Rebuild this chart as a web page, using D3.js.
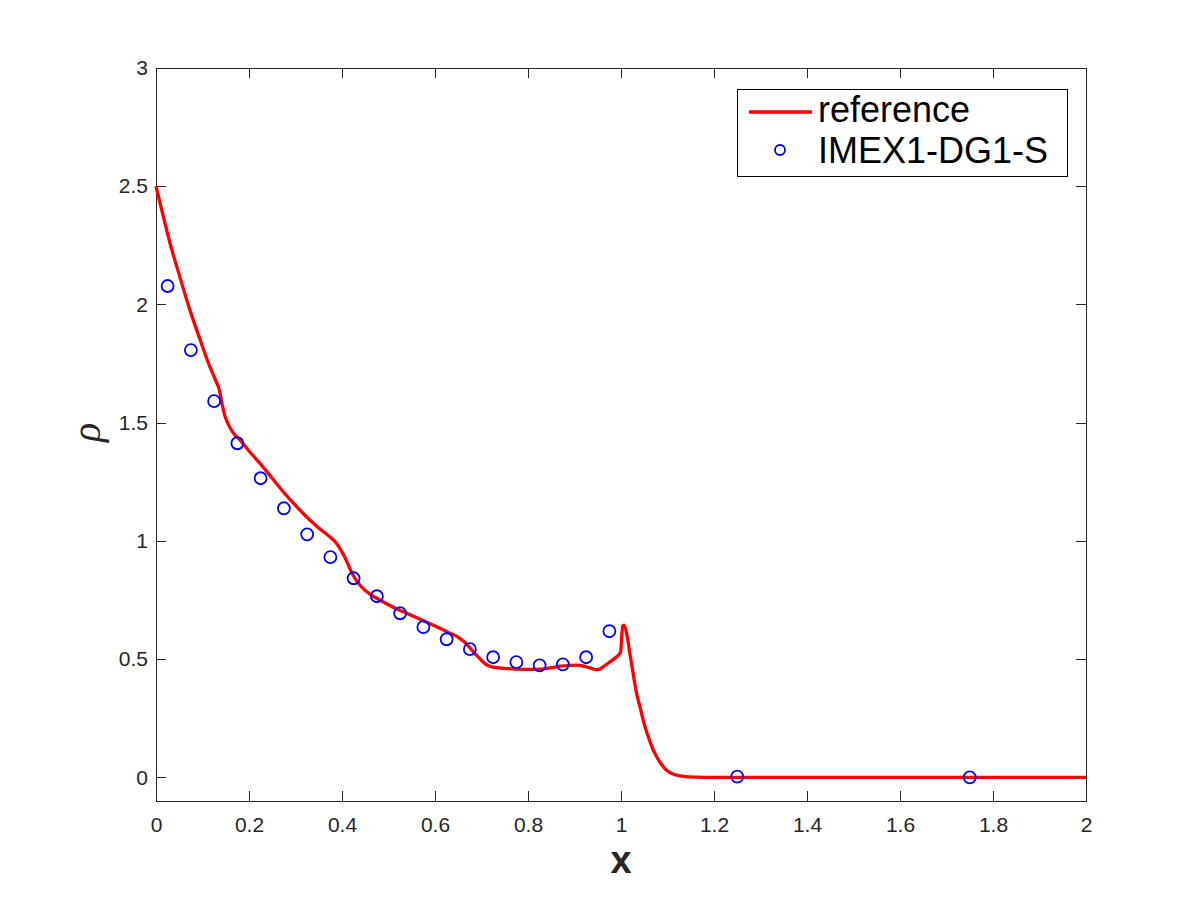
<!DOCTYPE html>
<html>
<head>
<meta charset="utf-8">
<script src="https://cdn.jsdelivr.net/npm/d3@7/dist/d3.min.js"></script>
<style>
  body { margin: 0; background: #fff; }
  svg { display: block; }
  .tick text { font-family: "Liberation Sans", Arial, Helvetica, sans-serif; fill: #262626; }
</style>
</head>
<body>
<svg id="chart" width="1200" height="900"></svg>
<script>
// reference solution (red line)
var refX = [0, 0.015, 0.030, 0.05, 0.073, 0.095, 0.116, 0.128, 0.136, 0.142, 0.148, 0.155, 0.165, 0.181,
    0.20, 0.224, 0.25, 0.274, 0.30, 0.324, 0.35, 0.374, 0.388, 0.398, 0.405, 0.412, 0.420, 0.430, 0.442,
    0.46, 0.482, 0.505, 0.532, 0.555, 0.575, 0.60, 0.632, 0.650, 0.665, 0.675, 0.685, 0.695, 0.705, 0.715,
    0.725, 0.75, 0.776, 0.80, 0.826, 0.85, 0.869, 0.89, 0.905, 0.92, 0.933, 0.945, 0.953, 0.962, 0.975,
    0.988, 0.999, 1.0036, 1.0065, 1.012, 1.019, 1.026, 1.033, 1.041, 1.050, 1.059, 1.068, 1.077, 1.088,
    1.098, 1.115, 1.134, 1.16, 1.2, 1.5, 2.0];
var refRho = [2.50, 2.378, 2.26, 2.125, 1.976, 1.85, 1.736, 1.68, 1.64, 1.58, 1.53, 1.495, 1.46, 1.426,
    1.38, 1.327, 1.265, 1.207, 1.15, 1.101, 1.055, 1.017, 0.99, 0.96, 0.935, 0.905, 0.87, 0.835, 0.805,
    0.775, 0.749, 0.725, 0.700, 0.680, 0.662, 0.640, 0.610, 0.592, 0.57, 0.548, 0.525, 0.505, 0.485, 0.472,
    0.466, 0.461, 0.458, 0.457, 0.458, 0.464, 0.470, 0.474, 0.475, 0.470, 0.463, 0.456, 0.457, 0.468, 0.487,
    0.506, 0.529, 0.640, 0.644, 0.61, 0.525, 0.44, 0.36, 0.297, 0.225, 0.170, 0.122, 0.086, 0.052,
    0.030, 0.012, 0.004, 0.001, 0, 0, 0];

// IMEX1-DG1-S cell values (blue circles)
var dgX = [0.025, 0.075, 0.125, 0.175, 0.225, 0.275, 0.325, 0.375, 0.425, 0.475, 0.525, 0.575,
    0.625, 0.675, 0.725, 0.775, 0.825, 0.875, 0.925, 0.975, 1.25, 1.75];
var dgRho = [2.078, 1.807, 1.591, 1.413, 1.265, 1.138, 1.028, 0.931, 0.842, 0.766, 0.694, 0.635,
    0.584, 0.542, 0.508, 0.487, 0.474, 0.478, 0.508, 0.618, 0.003, 0.0];

var xTicks = [0, 0.2, 0.4, 0.6, 0.8, 1, 1.2, 1.4, 1.6, 1.8, 2];
var xTickLabels = ["0", "0.2", "0.4", "0.6", "0.8", "1", "1.2", "1.4", "1.6", "1.8", "2"];
var yTicks = [0, 0.5, 1, 1.5, 2, 2.5, 3];
var yTickLabels = ["0", "0.5", "1", "1.5", "2", "2.5", "3"];

var seriesNames = ["reference", "IMEX1-DG1-S"];

var axisColor = "#262626";
var plotLeft = 156, plotRight = 1086, plotTop = 68, plotBottom = 801;

var svg = d3.select("#chart");

var x = d3.scaleLinear().domain([0, 2]).range([plotLeft, plotRight]);
var y = d3.scaleLinear().domain([-0.1, 3]).range([plotBottom, plotTop]);

// axes, ticks pointing inward on all four sides
var gx = svg.append("g").attr("transform", "translate(0," + plotBottom + ")")
    .call(d3.axisBottom(x).tickValues(xTicks).tickSizeInner(-10).tickSizeOuter(0).tickPadding(16)
        .tickFormat(function (d, i) { return xTickLabels[i]; }));
var gy = svg.append("g").attr("transform", "translate(" + plotLeft + ",0)")
    .call(d3.axisLeft(y).tickValues(yTicks).tickSizeInner(-10).tickSizeOuter(0).tickPadding(8)
        .tickFormat(function (d, i) { return yTickLabels[i]; }));
var gt = svg.append("g").attr("transform", "translate(0," + plotTop + ")")
    .call(d3.axisTop(x).tickValues(xTicks).tickSizeInner(-10).tickSizeOuter(0).tickFormat(""));
var gr = svg.append("g").attr("transform", "translate(" + plotRight + ",0)")
    .call(d3.axisRight(y).tickValues(yTicks).tickSizeInner(-10).tickSizeOuter(0).tickFormat(""));

[gx, gy, gt, gr].forEach(function (g) {
    g.selectAll("path, line").attr("stroke", axisColor).attr("stroke-width", 1).attr("shape-rendering", "crispEdges");
    g.selectAll("text").attr("font-size", 21);
});

// axis labels
svg.append("text")
    .attr("x", x(1))
    .attr("y", 873)
    .attr("text-anchor", "middle")
    .attr("font-family", "'Liberation Sans', Arial, Helvetica, sans-serif")
    .attr("font-weight", "bold")
    .attr("font-size", 38)
    .attr("fill", axisColor)
    .text("x");

svg.append("text")
    .attr("transform", "translate(100," + ((plotTop + plotBottom) / 2 - 2) + ") rotate(-90)")
    .attr("text-anchor", "middle")
    .attr("font-family", "'Liberation Serif', 'Times New Roman', serif")
    .attr("font-style", "italic")
    .attr("font-size", 40)
    .attr("fill", axisColor)
    .text("ρ");

// data
var refData = refX.map(function (d, i) { return [d, refRho[i]]; });
var dgData = dgX.map(function (d, i) { return [d, dgRho[i]]; });

var line = d3.line()
    .x(function (d) { return x(d[0]); })
    .y(function (d) { return y(d[1]); })
    .curve(d3.curveMonotoneX);

svg.append("path")
    .datum(refData)
    .attr("d", line)
    .attr("fill", "none")
    .attr("stroke", "#ff0000")
    .attr("stroke-width", 3.3)
    .attr("stroke-linejoin", "round");

svg.selectAll(".dg")
    .data(dgData)
    .enter().append("circle")
    .attr("class", "dg")
    .attr("cx", function (d) { return x(d[0]); })
    .attr("cy", function (d) { return y(d[1]); })
    .attr("r", 6)
    .attr("fill", "none")
    .attr("stroke", "#0000ff")
    .attr("stroke-width", 1.8);

// legend
var legend = svg.append("g").attr("transform", "translate(737,89)");
legend.append("rect")
    .attr("width", 330)
    .attr("height", 87)
    .attr("fill", "#fff")
    .attr("stroke", "#000")
    .attr("stroke-width", 1)
    .attr("shape-rendering", "crispEdges");
legend.append("line")
    .attr("x1", 12).attr("x2", 75)
    .attr("y1", 23).attr("y2", 23)
    .attr("stroke", "#ff0000")
    .attr("stroke-width", 3.3);
legend.append("circle")
    .attr("cx", 43).attr("cy", 61)
    .attr("r", 5)
    .attr("fill", "none")
    .attr("stroke", "#0000ff")
    .attr("stroke-width", 1.8);
legend.selectAll(".legText")
    .data(seriesNames)
    .enter().append("text")
    .attr("class", "legText")
    .attr("x", 81)
    .attr("y", function (d, i) { return 33 + i * 41; })
    .attr("font-family", "'Liberation Sans', Arial, Helvetica, sans-serif")
    .attr("font-size", 36)
    .attr("fill", "#000")
    .text(function (d) { return d; });
</script>
</body>
</html>
